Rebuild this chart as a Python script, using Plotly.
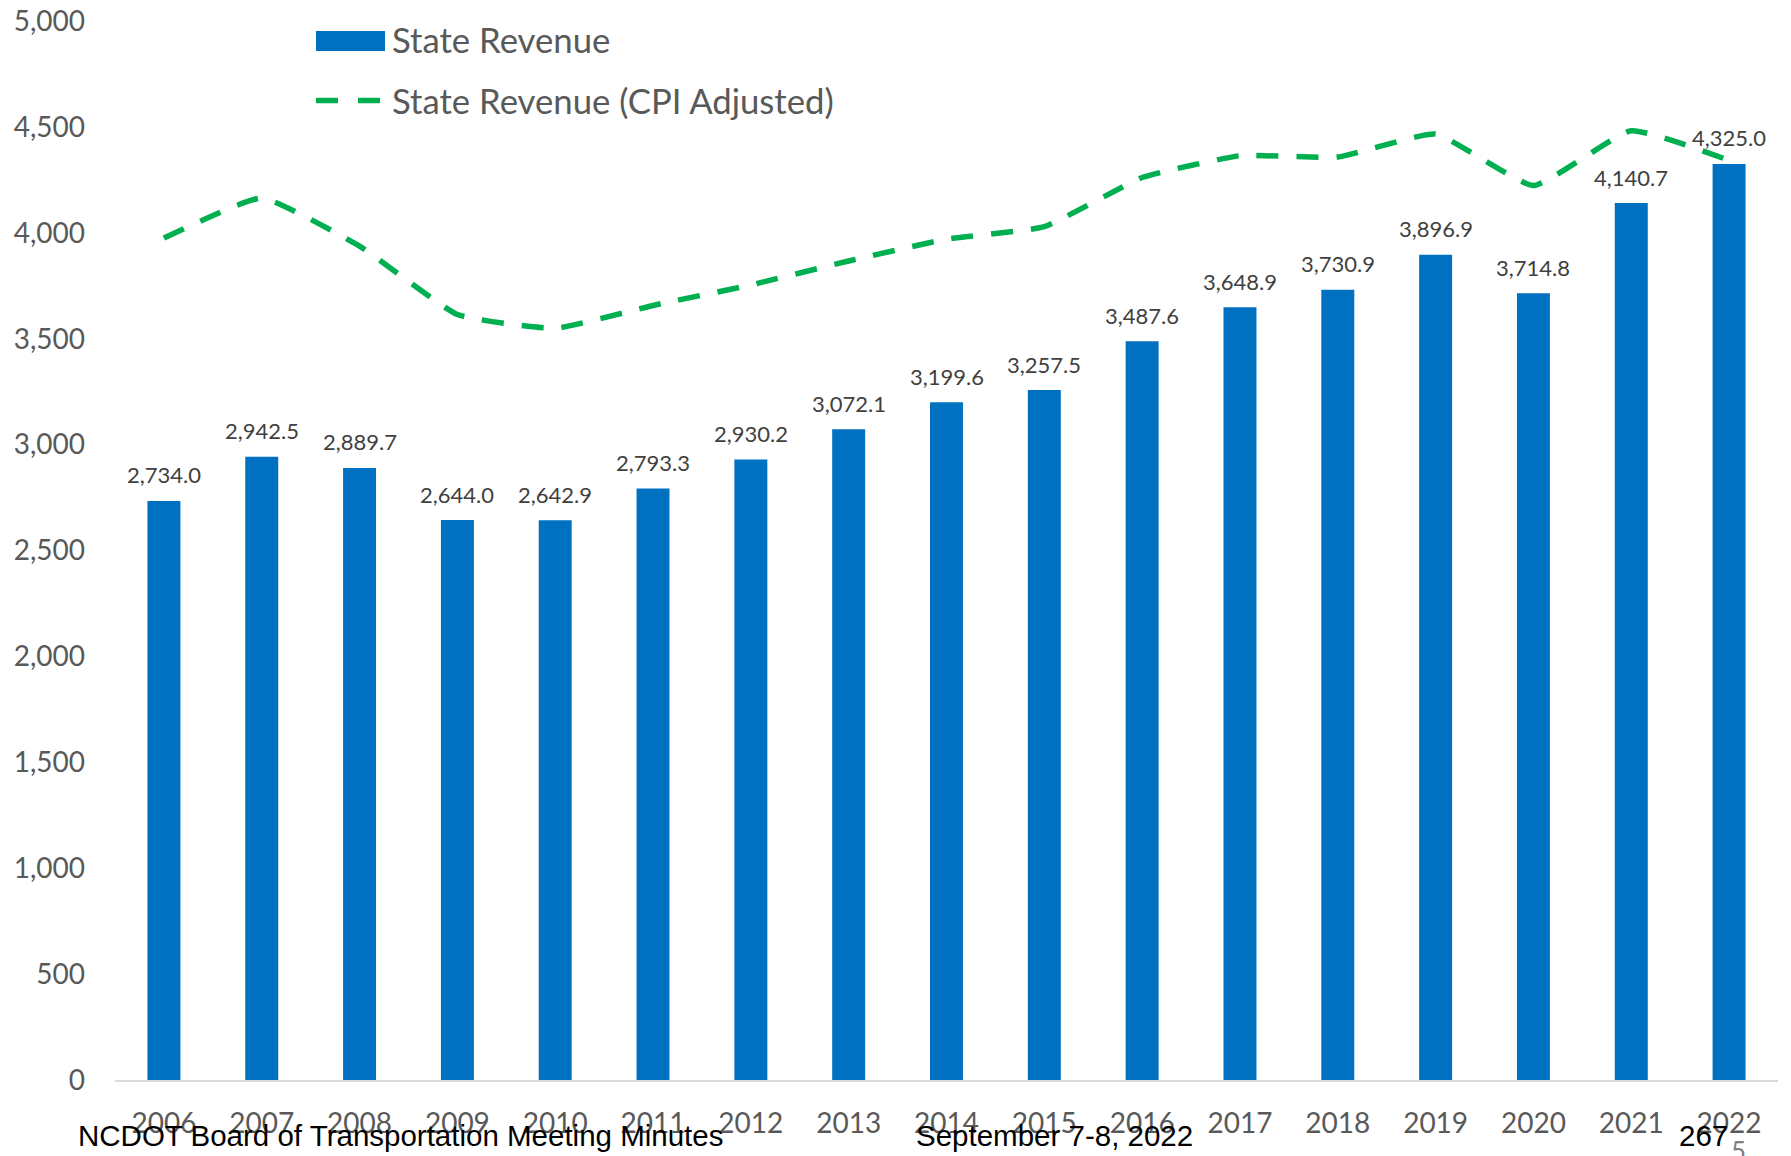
import plotly.graph_objects as go

# Fiscal years and revenue series (millions of dollars)
years = ["2006", "2007", "2008", "2009", "2010", "2011", "2012", "2013", "2014",
         "2015", "2016", "2017", "2018", "2019", "2020", "2021", "2022"]
state_revenue = [2734.0, 2942.5, 2889.7, 2644.0, 2642.9, 2793.3, 2930.2, 3072.1, 3199.6,
                 3257.5, 3487.6, 3648.9, 3730.9, 3896.9, 3714.8, 4140.7, 4325.0]
state_revenue_cpi = [3975, 4164, 3937, 3614, 3549, 3657, 3754, 3867, 3970,
                     4029, 4261, 4364, 4358, 4466, 4223, 4482, 4342]

y_ticks = [0, 500, 1000, 1500, 2000, 2500, 3000, 3500, 4000, 4500, 5000]

BLUE = "#0070C0"
GREEN = "#00B050"
TICK_GRAY = "#595959"
LABEL_GRAY = "#404040"
FONT = "Lato, Carlito, Calibri, sans-serif"
FOOT = "Liberation Sans, Arial, sans-serif"

W, H = 1791, 1156
M_L, M_R, M_T, M_B = 115, 13, 21, 76
PW, PH = W - M_L - M_R, H - M_T - M_B


def px_x(px):
    return (px - M_L) / PW


def px_y(py):
    return (H - M_B - py) / PH


fig = go.Figure()

fig.add_trace(go.Bar(
    x=years, y=state_revenue, name="State Revenue",
    marker=dict(color=BLUE, line=dict(width=0)),
    showlegend=False, hoverinfo="x+y",
))

fig.add_trace(go.Scatter(
    x=years, y=state_revenue_cpi, name="State Revenue (CPI Adjusted)",
    mode="lines",
    line=dict(color=GREEN, width=5.5, dash="22px,18px", shape="spline", smoothing=0.4),
    showlegend=False,
))

annotations = []
# Value labels above each bar (category index keeps them on the right bar)
for i, v in enumerate(state_revenue):
    annotations.append(dict(
        x=i, y=v, xref="x", yref="y", text=f"{v:,.1f}",
        showarrow=False, yanchor="middle", yshift=26,
        font=dict(family=FONT, size=22, color=LABEL_GRAY),
    ))

# Legend drawn by hand: wide swatch and dashed sample
shapes = [
    dict(type="rect", xref="paper", yref="paper",
         x0=px_x(316), x1=px_x(385), y0=px_y(51), y1=px_y(31),
         fillcolor=BLUE, line=dict(width=0)),
    dict(type="line", xref="paper", yref="paper",
         x0=px_x(316), x1=px_x(381), y0=px_y(100.5), y1=px_y(100.5),
         line=dict(color=GREEN, width=5.5, dash="22px,20px")),
]
annotations += [
    dict(x=px_x(390), y=px_y(40), xref="paper", yref="paper", text="State Revenue",
         showarrow=False, xanchor="left", yanchor="middle",
         font=dict(family=FONT, size=34.7, color=TICK_GRAY)),
    dict(x=px_x(390), y=px_y(100.5), xref="paper", yref="paper",
         text="State Revenue (CPI Adjusted)",
         showarrow=False, xanchor="left", yanchor="middle",
         font=dict(family=FONT, size=34.7, color=TICK_GRAY)),
]

# Page footer
annotations += [
    dict(x=px_x(76), y=px_y(1135), xref="paper", yref="paper",
         text="NCDOT Board of Transportation Meeting Minutes",
         showarrow=False, xanchor="left", yanchor="middle",
         font=dict(family=FOOT, size=29.5, color="#000000")),
    dict(x=px_x(914), y=px_y(1135), xref="paper", yref="paper",
         text="September 7-8, 2022",
         showarrow=False, xanchor="left", yanchor="middle",
         font=dict(family=FOOT, size=29.5, color="#000000")),
    dict(x=px_x(1677), y=px_y(1135), xref="paper", yref="paper",
         text="267",
         showarrow=False, xanchor="left", yanchor="middle",
         font=dict(family=FOOT, size=29.5, color="#000000")),
    dict(x=px_x(1729), y=px_y(1133), xref="paper", yref="paper",
         text="5",
         showarrow=False, xanchor="left", yanchor="top",
         font=dict(family=FONT, size=26, color="#7F7F7F")),
]

fig.update_layout(
    width=W, height=H,
    margin=dict(l=M_L, r=M_R, t=M_T, b=M_B, pad=0, autoexpand=False),
    paper_bgcolor="white", plot_bgcolor="white",
    bargap=0.663,
    showlegend=False,
    shapes=shapes,
    annotations=annotations,
    font=dict(family=FONT, color=TICK_GRAY),
)

fig.update_xaxes(
    type="category", range=[-0.5, len(years) - 0.5],
    showgrid=False, zeroline=False, automargin=False,
    showline=True, linecolor="#D9D9D9", linewidth=2,
    ticks="", ticklabelstandoff=17,
    tickfont=dict(family=FONT, size=28, color=TICK_GRAY),
)

fig.update_yaxes(
    range=[0, 5000], tickvals=y_ticks, tickformat=",",
    showgrid=False, zeroline=False, showline=False, automargin=False,
    ticks="", ticklabelstandoff=29,
    tickfont=dict(family=FONT, size=28, color=TICK_GRAY),
)

fig.write_html("out.html")
